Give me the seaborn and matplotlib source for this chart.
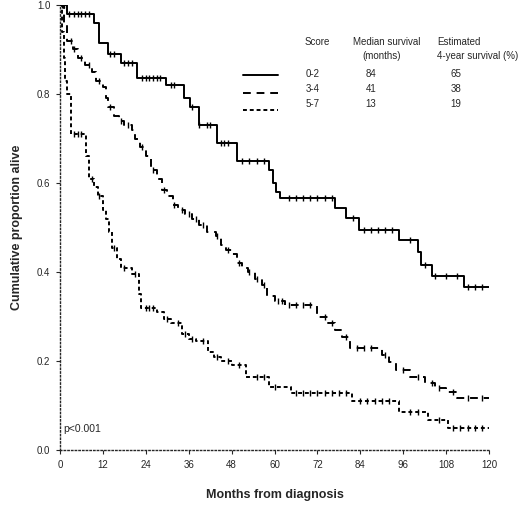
import numpy as np
import pandas as pd
import matplotlib
matplotlib.use("Agg")
import matplotlib.pyplot as plt
from matplotlib.lines import Line2D
import seaborn as sns

# Kaplan-Meier step data (months, proportion alive)
t_low = [0, 2, 9.5, 11, 13.5, 17, 21.6, 29.6, 34.7, 36.5, 38.8, 44, 49.6, 58.4, 59.5,
         60.5, 61.5, 77, 80, 83.6, 94.7, 100, 100.9, 104, 113, 120]
s_low = [1.0, 0.98, 0.96, 0.915, 0.89, 0.87, 0.835, 0.82, 0.79, 0.77, 0.73, 0.69, 0.65,
         0.63, 0.60, 0.58, 0.566, 0.543, 0.521, 0.494, 0.472, 0.445, 0.416, 0.391, 0.367, 0.367]

t_mid = [0, 1, 2, 3.5, 5, 7, 9, 10, 12, 12.8, 13.5, 15, 16.5, 18, 20, 21, 22.5, 24, 25.5,
         27, 28.5, 30, 31.5, 33, 35, 37, 39, 41, 43.5, 45, 46.5, 48, 49.5, 51, 52.5, 54.5,
         56.5, 58, 60, 63, 72, 75, 77, 79, 81, 90, 92, 94, 98, 102, 105, 108, 111, 120]
s_mid = [1.0, 0.96, 0.92, 0.9, 0.88, 0.865, 0.85, 0.83, 0.815, 0.79, 0.77, 0.75, 0.74, 0.73,
         0.72, 0.70, 0.68, 0.66, 0.63, 0.61, 0.585, 0.57, 0.55, 0.54, 0.53, 0.52, 0.505, 0.49,
         0.48, 0.46, 0.45, 0.44, 0.42, 0.41, 0.40, 0.385, 0.37, 0.345, 0.335, 0.326, 0.30,
         0.285, 0.27, 0.254, 0.23, 0.213, 0.198, 0.18, 0.165, 0.15, 0.14, 0.13, 0.117, 0.117]

t_high = [0, 0.5, 1, 1.5, 2, 3, 7.2, 8, 9.5, 10.5, 12, 13, 13.6, 14.5, 16, 17, 20, 22, 22.6,
          27, 29, 31, 34, 36, 38, 41.5, 43, 45, 48, 52, 58.4, 64.5, 81.8, 94.7, 103, 108.4, 120]
s_high = [1.0, 0.94, 0.88, 0.83, 0.80, 0.71, 0.66, 0.61, 0.59, 0.57, 0.54, 0.52, 0.49, 0.455,
          0.43, 0.41, 0.395, 0.35, 0.32, 0.31, 0.295, 0.285, 0.26, 0.25, 0.245, 0.22, 0.21,
          0.20, 0.19, 0.165, 0.142, 0.128, 0.109, 0.086, 0.067, 0.05, 0.05]

# censored observations (months)
c_low = [1, 2.5, 4, 5, 6, 7, 8, 14, 15, 18, 19, 20, 23, 24, 25, 26, 27, 28, 31, 32, 37, 39,
         41, 42, 45, 46, 47, 51, 53, 55, 57, 64, 66, 68, 70, 72, 74, 76, 82, 85, 87, 89, 91,
         93, 98, 102, 105, 108, 111, 114, 116, 118]
c_mid = [0.5, 3, 4, 6, 8, 11, 14, 17, 19, 23, 26, 29, 32, 34, 36, 38, 40, 44, 47, 50, 53, 55,
         57, 61, 62, 64, 66, 68, 70, 74, 76, 80, 83, 85, 87, 91, 96, 100, 104, 106, 110, 114, 118]
c_high = [4, 5, 6, 9, 11, 15, 18, 21, 24, 25, 26, 30, 33, 35, 37, 40, 44, 47, 50, 55, 57, 60,
          66, 68, 70, 72, 74, 76, 78, 80, 84, 86, 88, 90, 92, 98, 100, 106, 110, 112, 114, 116, 118]

scores = ["0-2", "3-4", "5-7"]
medians = ["84", "41", "13"]
surv4 = ["65", "38", "19"]
x_ticks = [0, 12, 24, 36, 48, 60, 72, 84, 96, 108, 120]
y_ticks = [0.0, 0.2, 0.4, 0.6, 0.8, 1.0]

sns.set_style("ticks")
plt.rcParams['font.family'] = ['Liberation Sans', 'DejaVu Sans']

fig = plt.figure(figsize=(5.2, 5.07), dpi=100)
ax = fig.add_axes([60/520, 57/507, 429/520, 445/507])

styles = ["-", (0, (4, 3)), (0, (2, 1.5))]
groups = [(t_low, s_low, c_low), (t_mid, s_mid, c_mid), (t_high, s_high, c_high)]
for (t, s, c), ls in zip(groups, styles):
    sns.lineplot(x=t, y=s, drawstyle="steps-post", estimator=None, sort=False,
                 color="black", linewidth=1.4, linestyle=ls, ax=ax)
    t_arr = np.array(t)
    s_arr = np.array(s)
    cy = s_arr[np.searchsorted(t_arr, c, side="right") - 1]
    sns.scatterplot(x=c, y=cy, marker="|", s=22, color="black", linewidth=1.0, ax=ax)

ax.set_xlim(0, 120)
ax.set_ylim(0, 1.0)
ax.set_xticks(x_ticks)
ax.set_yticks(y_ticks)
ax.set_xticklabels([str(v) for v in x_ticks], fontsize=7)
ax.set_yticklabels([f"{v:.1f}" for v in y_ticks], fontsize=7)
ax.tick_params(length=3, width=0.8, pad=4)
sns.despine(ax=ax)
for side in ["left", "bottom"]:
    ax.spines[side].set_linestyle(":")
    ax.spines[side].set_linewidth(1.0)

ax.set_xlabel("Months from diagnosis", fontsize=9, fontweight="bold", labelpad=14)
ax.set_ylabel("Cumulative proportion alive", fontsize=9, fontweight="bold", labelpad=10)
ax.text(0.008, 0.035, "p<0.001", transform=ax.transAxes, fontsize=7.5,
        ha="left", va="bottom")

# legend: line samples + text columns
handles = [Line2D([], [], color="black", linewidth=1.4, linestyle=ls) for ls in styles]
leg = fig.legend(handles, ["", "", ""], loc="upper left",
                 bbox_to_anchor=(238/520, 1 - 66/507), frameon=False,
                 handlelength=3.6, labelspacing=0.75, fontsize=7, borderpad=0)

fs = 7
fig.text(305/520, 1 - 42/507, "Score", fontsize=fs, va="center")
fig.text(353/520, 1 - 42/507, "Median survival", fontsize=fs, va="center")
fig.text(362/520, 1 - 56/507, "(months)", fontsize=fs, va="center")
fig.text(437/520, 1 - 42/507, "Estimated", fontsize=fs, va="center")
fig.text(437/520, 1 - 56/507, "4-year survival (%)", fontsize=fs, va="center")
for i, (sc, md, sv) in enumerate(zip(scores, medians, surv4)):
    yy = 1 - (74 + 15 * i) / 507
    fig.text(313/520, yy, sc, fontsize=fs, va="center", ha="center")
    fig.text(371/520, yy, md, fontsize=fs, va="center", ha="center")
    fig.text(456/520, yy, sv, fontsize=fs, va="center", ha="center")

fig.savefig("out.png", dpi=100)
